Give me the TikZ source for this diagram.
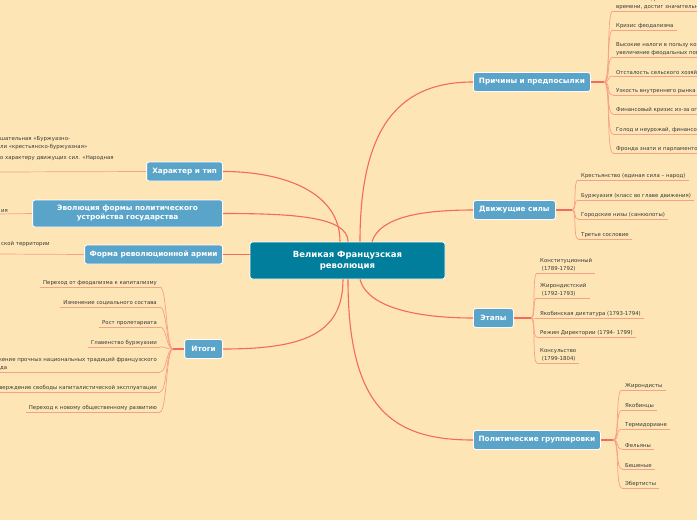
\documentclass[tikz,border=0pt]{standalone}
\usepackage{fontspec}
\setmainfont{DejaVu Sans}
\definecolor{bg}{HTML}{FEE5B5}
\definecolor{boxc}{HTML}{5BA4C9}
\definecolor{centc}{HTML}{007E9B}
\definecolor{linec}{HTML}{F26B5B}
\definecolor{leafc}{HTML}{F7A086}
\definecolor{leaftext}{HTML}{3A3A3A}
\begin{document}
\begin{tikzpicture}[x=1pt,y=-1pt,
  box/.style={rectangle, rounded corners=2.5pt, fill=boxc, draw=white, line width=0.8pt, text=white,
    font=\fontsize{7.3}{9}\selectfont\bfseries, minimum height=19pt, inner xsep=2pt, inner ysep=2pt, align=center},
  leaf/.style={inner xsep=3pt, inner ysep=1.6pt, font=\fontsize{5.4}{8}\selectfont, text=leaftext, align=left},
  uline/.style={draw=leafc, line width=0.7pt},
  twig/.style={draw=leafc, line width=0.7pt},
  mainline/.style={draw=linec, line width=1.1pt},
]
\fill[bg] (0,0) rectangle (697,520);
\useasboundingbox (0,0) rectangle (697,520);
\clip (0,0) rectangle (697,520);

% central node
\node[box, fill=centc, minimum width=195pt, minimum height=37pt, font=\fontsize{8.5}{11}\selectfont\bfseries] (c) at (347.5,260.5) {Великая Французская\\революция};

% main branches
\node[box, anchor=west, minimum width=117pt] (b1) at (473,82) {Причины и предпосылки};
\node[box, anchor=west, minimum width=82pt] (b2) at (473,210) {Движущие силы};
\node[box, anchor=west, minimum width=40pt] (b3) at (473,318) {Этапы};
\node[box, anchor=west, minimum width=127pt] (b4) at (473,440) {Политические группировки};
\node[box, anchor=east, minimum width=76pt] (l1) at (223,171.5) {Характер и тип};
\node[box, anchor=east, minimum width=190pt, minimum height=27pt] (l2) at (223,213.5) {Эволюция формы политического\\устройства государства};
\node[box, anchor=east, minimum width=138pt] (l3) at (223,254.5) {Форма революционной армии};
\node[box, anchor=east, minimum width=38pt] (l4) at (223,349) {Итоги};

% center connectors
\draw[mainline] ([xshift=12.5pt]c.north) .. controls +(0,-120) and +(-70,0) .. (b1.west);
\draw[mainline] ([xshift=24.5pt]c.north) .. controls +(8,-25) and +(-50,0) .. (b2.west);
\draw[mainline] ([xshift=-7.5pt]c.north) .. controls +(0,-50) and +(60,0) .. (l1.east);
\draw[mainline] ([xshift=0.5pt]c.north) .. controls +(0,-25) and +(70,0) .. (l2.east);
\draw[mainline] (l3.east) -- (l3.east -| c.west);
\draw[mainline] ([xshift=-4.5pt]c.south) .. controls +(0,55) and +(80,0) .. (l4.east);
\draw[mainline] ([xshift=0.5pt]c.south) .. controls +(0,130) and +(-80,0) .. (b4.west);
\draw[mainline] ([xshift=12.5pt]c.south) .. controls +(8,30) and +(-50,0) .. (b3.west);

% junctions
\coordinate (j1) at (604,82);
\coordinate (j2) at (572,210);
\coordinate (j3) at (531,318);
\coordinate (j4) at (613,440);
\coordinate (j5) at (173,349);
\draw[mainline] (b1.east) -- (j1);
\draw[mainline] (b2.east) -- (j2);
\draw[mainline] (b3.east) -- (j3);
\draw[mainline] (b4.east) -- (j4);
\draw[mainline] (l4.west) -- (j5);

% causes
\node[leaf, anchor=south west] (p1) at (613,11) {Капитализм, развиваясь в недрах феодального строя в течение длительного\\времени, достиг значительного уровня развития};
\node[leaf, anchor=south west] (p2) at (613,30) {Кризис феодализма};
\node[leaf, anchor=south west] (p3) at (613,57) {Высокие налоги в пользу короля, церкви и дворянства,\\увеличение феодальных повинностей};
\node[leaf, anchor=south west] (p4) at (613,76) {Отсталость сельского хозяйства};
\node[leaf, anchor=south west] (p5) at (613,95) {Узкость внутреннего рынка};
\node[leaf, anchor=south west] (p6) at (613,114) {Финансовый кризис из-за огромных расходов двора};
\node[leaf, anchor=south west] (p7) at (613,134) {Голод и неурожай, финансовый крах};
\node[leaf, anchor=south west] (p8) at (613,153) {Фронда знати и парламентов};
\foreach \n in {p1,p2,p3,p4,p5,p6,p7,p8}{
  \draw[twig] (j1) .. controls +(7,0) and +(-7,0) .. (\n.south west);
  \draw[uline] (\n.south west) -- (\n.south east);
}

% driving forces
\node[leaf, anchor=south west] (d1) at (578,180) {Крестьянство (единая сила – народ)};
\node[leaf, anchor=south west] (d2) at (578,200) {Буржуазия (класс во главе движения)};
\node[leaf, anchor=south west] (d3) at (578,219) {Городские низы (санкюлоты)};
\node[leaf, anchor=south west] (d4) at (578,239) {Третье сословие};
\foreach \n in {d1,d2,d3,d4}{
  \draw[twig] (j2) .. controls +(5,0) and +(-5,0) .. (\n.south west);
  \draw[uline] (\n.south west) -- (\n.south east);
}

% stages
\node[leaf, anchor=south west] (s1) at (537,273) {Конституционный\\~(1789-1792)};
\node[leaf, anchor=south west] (s2) at (537,298) {Жирондистский\\~(1792-1793)};
\node[leaf, anchor=south west] (s3) at (537,318) {Якобинская диктатура (1793-1794)};
\node[leaf, anchor=south west] (s4) at (537,337) {Режим Директории (1794- 1799)};
\node[leaf, anchor=south west] (s5) at (537,363) {Консульство\\~(1799-1804)};
\foreach \n in {s1,s2,s3,s4,s5}{
  \draw[twig] (j3) .. controls +(5,0) and +(-5,0) .. (\n.south west);
  \draw[uline] (\n.south west) -- (\n.south east);
}

% political groups
\node[leaf, anchor=south west] (g1) at (622,390) {Жирондисты};
\node[leaf, anchor=south west] (g2) at (622,410) {Якобинцы};
\node[leaf, anchor=south west] (g3) at (622,429) {Термидориане};
\node[leaf, anchor=south west] (g4) at (622,449) {Фельяны};
\node[leaf, anchor=south west] (g5) at (622,469) {Бешеные};
\node[leaf, anchor=south west] (g6) at (622,488) {Эбертисты};
\foreach \n in {g1,g2,g3,g4,g5,g6}{
  \draw[twig] (j4) .. controls +(7,0) and +(-7,0) .. (\n.south west);
  \draw[uline] (\n.south west) -- (\n.south east);
}

% results
\node[leaf, anchor=south east] (r1) at (160,287) {Переход от феодализма к капитализму};
\node[leaf, anchor=south east] (r2) at (160,307) {Изменение социального состава};
\node[leaf, anchor=south east] (r3) at (160,327) {Рост пролетариата};
\node[leaf, anchor=south east] (r4) at (160,347) {Главенство буржуазии};
\node[leaf, anchor=south east] (r5) at (160,372) {Сложение прочных национальных традиций французского\\народа};
\node[leaf, anchor=south east] (r6) at (160,392) {Утверждение свободы капиталистической эксплуатации};
\node[leaf, anchor=south east] (r7) at (160,412) {Переход к новому общественному развитию};
\foreach \n in {r1,r2,r3,r4,r5,r6,r7}{
  \draw[twig] (j5) .. controls +(-7,0) and +(7,0) .. (\n.south east);
  \draw[uline] (\n.south west) -- (\n.south east);
}

% left leaves (cut by the edge)
\node[leaf, anchor=north west] (h1) at (-3,135) {шательная «Буржуазно-\\ли «крестьянско-буржуазная»\\[3pt]о характеру движущих сил. «Народная};
\coordinate (h1u) at (0,172);
\draw[twig] (h1u) -- (l1.west);
\node[leaf, anchor=south west] (e1) at (-2,214) {ия};
\draw[twig] (e1.south west) -- (l2.west);
\node[leaf, anchor=base west] (a1) at (-2,245) {ской территории};
\coordinate (a1u) at (0,254);
\draw[twig] (a1u) -- (l3.west);
\end{tikzpicture}
\end{document}
